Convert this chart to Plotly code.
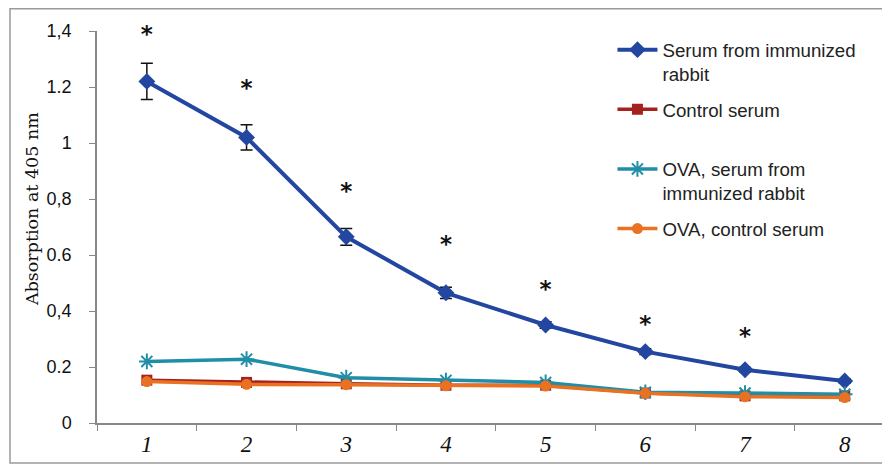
import plotly.graph_objects as go

categories = ["1", "2", "3", "4", "5", "6", "7", "8"]
serum_immunized = [1.22, 1.02, 0.665, 0.465, 0.35, 0.255, 0.19, 0.15]
serum_immunized_err = [0.065, 0.045, 0.03, 0.02, 0.012, 0.01, 0.008, 0.008]
control_serum = [0.153, 0.145, 0.14, 0.135, 0.135, 0.107, 0.097, 0.097]
ova_immunized = [0.22, 0.228, 0.162, 0.152, 0.145, 0.11, 0.107, 0.103]
ova_control = [0.148, 0.138, 0.137, 0.133, 0.132, 0.106, 0.094, 0.091]
star_categories = ["1", "2", "3", "4", "5", "6", "7"]
star_y = [1.382, 1.19, 0.821, 0.632, 0.471, 0.346, 0.304]

y_tickvals = [0, 0.2, 0.4, 0.6, 0.8, 1.0, 1.2, 1.4]
y_ticktext = ["0", "0.2", "0,4", "0.6", "0,8", "1", "1.2", "1,4"]

BLUE = "#2347a0"
RED = "#a3221e"
TEAL = "#1f8ea6"
ORANGE = "#ea7122"

fig = go.Figure()
fig.add_trace(go.Scatter(
    x=categories, y=serum_immunized, name="Serum from immunized<br>rabbit",
    mode="lines+markers", line=dict(color=BLUE, width=4),
    marker=dict(symbol="diamond", size=13, color=BLUE),
    error_y=dict(type="data", array=serum_immunized_err, color="#111111", thickness=1.5, width=6),
    legendgroup="a"))
fig.add_trace(go.Scatter(
    x=categories, y=control_serum, name="Control serum<br>\u00a0",
    mode="lines+markers", line=dict(color=RED, width=3.5),
    marker=dict(symbol="square", size=11, color=RED), legendgroup="b"))
fig.add_trace(go.Scatter(
    x=categories, y=ova_immunized, name="OVA, serum from<br>immunized rabbit",
    mode="lines+markers", line=dict(color=TEAL, width=3.5),
    marker=dict(symbol="asterisk-open", size=13, color=TEAL, line=dict(color=TEAL, width=2)),
    legendgroup="c"))
fig.add_trace(go.Scatter(
    x=categories, y=ova_control, name="OVA, control serum",
    mode="lines+markers", line=dict(color=ORANGE, width=3.5),
    marker=dict(symbol="circle", size=11, color=ORANGE), legendgroup="d"))
fig.add_trace(go.Scatter(
    x=star_categories, y=star_y, mode="text", text=["<b>*</b>"] * len(star_categories),
    textfont=dict(family="DejaVu Sans", size=23, color="#111111"),
    showlegend=False, cliponaxis=False, hoverinfo="skip"))

W, H = 882, 458
L, R, T, B = 89, 0, 23, 43
pw, ph = W - L - R, H - T - B

def px_x(v):
    return (v - L) / pw

def px_y(v):
    return (H - B - v) / ph

fig.update_layout(
    width=W, height=H,
    margin=dict(l=L, r=R, t=T, b=B, pad=0),
    paper_bgcolor="white", plot_bgcolor="white",
    font=dict(family="Liberation Sans", color="#222222"),
    showlegend=True,
    legend=dict(
        x=0.65, y=1.0, xanchor="left", yanchor="top",
        font=dict(family="Liberation Sans", size=18.7, color="#222222"),
        bgcolor="rgba(0,0,0,0)", itemwidth=40, tracegroupgap=8,
        traceorder="grouped", valign="top"),
    xaxis=dict(
        type="category", categoryorder="array", categoryarray=categories,
        range=[-0.5, 7.454], tickson="boundaries", ticks="outside", ticklen=6,
        tickcolor="#888888", showline=True, linecolor="#888888", linewidth=1.5,
        showgrid=False, zeroline=False,
        tickfont=dict(family="Liberation Serif", size=23, color="#111111", style="italic")),
    yaxis=dict(
        range=[0, 1.4], tickvals=y_tickvals, ticktext=y_ticktext,
        ticks="outside", ticklen=6, tickcolor="#888888",
        showline=True, linecolor="#888888", linewidth=1.5,
        showgrid=False, zeroline=False, ticklabelstandoff=14,
        tickfont=dict(family="Liberation Sans", size=18, color="#111111")),
    annotations=[
        dict(text="Absorption at 405 nm", textangle=-90, showarrow=False,
             xref="paper", yref="paper", x=px_x(24), y=px_y(201),
             xanchor="center", yanchor="middle",
             font=dict(family="DejaVu Serif", size=17.5, color="#111111")),
    ],
    shapes=[
        dict(type="rect", xref="paper", yref="paper",
             x0=px_x(2), x1=px_x(879), y0=px_y(455), y1=px_y(0.8),
             line=dict(color="#9a9a9a", width=1.5), fillcolor="rgba(0,0,0,0)", layer="below"),
    ],
)

fig.write_html("out.html")
